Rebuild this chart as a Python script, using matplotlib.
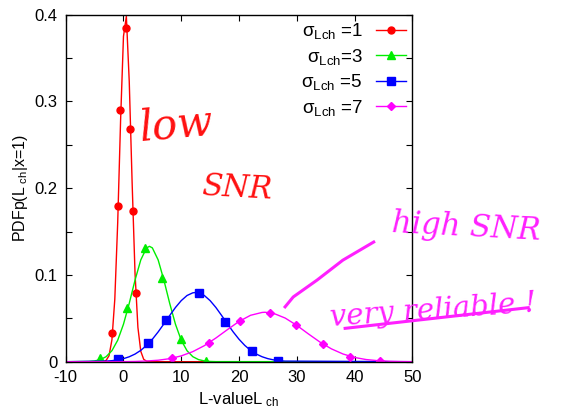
import matplotlib
matplotlib.use("Agg")
import matplotlib.pyplot as plt
from matplotlib.ticker import MultipleLocator

plt.rcParams['font.family'] = ['Liberation Sans', 'DejaVu Sans']
plt.rcParams['mathtext.fontset'] = 'custom'
plt.rcParams['mathtext.rm'] = 'Liberation Sans'

# ---- data ----
labels = [r'$\mathregular{\sigma_{Lch}}$ =1', r'$\mathregular{\sigma_{Lch}}$=3',
          r'$\mathregular{\sigma_{Lch}}$ =5', r'$\mathregular{\sigma_{Lch}}$ =7']
colors = ['#ff0000', '#00ee00', '#0000ff', '#ff00ff']
markers = ['o', '^', 's', 'D']
xticks = [-10, 0, 10, 20, 30, 40, 50]
xticklabels = ['-10', '0', '10', '20', '30', '40', '50']
yticks = [0, 0.1, 0.2, 0.3, 0.4]
yticklabels = ['0', '0.1', '0.2', '0.3', '0.4']

# smooth curves
red_x = [-10, -4, -3.5, -3, -2.5, -2, -1.5, -1, -0.5, 0, 0.5, 1, 1.5, 2, 2.5, 3, 3.5, 4, 4.5, 5, 50]
red_y = [0, 0.0000, 0.0002, 0.0015, 0.0069, 0.0252, 0.0721, 0.160, 0.278, 0.375, 0.398, 0.323,
         0.206, 0.102, 0.0395, 0.0119, 0.0028, 0.0005, 0.0001, 0, 0]
green_x = [-10, -6, -5, -4, -3, -2, -1, 0, 1, 2, 3, 4, 4.5, 5, 6, 7, 8, 9, 10, 11, 12, 13, 14, 15, 16, 50]
green_y = [0, 0.0003, 0.0009, 0.0024, 0.0058, 0.0127, 0.0247, 0.0432, 0.0673, 0.094, 0.1174, 0.1312,
           0.133, 0.1312, 0.1174, 0.094, 0.0673, 0.0432, 0.0247, 0.0127, 0.0058, 0.0024, 0.0009,
           0.0003, 0.0001, 0]
blue_x = [-10, -3, -2, -1, 0, 1, 2, 3, 4, 5, 6, 7, 8, 9, 10, 11, 12, 12.5, 13, 14, 15, 16, 17, 18,
          19, 20, 21, 22, 23, 24, 25, 26, 27, 28, 50]
blue_y = [0, 0.0007, 0.0012, 0.0021, 0.0035, 0.0057, 0.0088, 0.0131, 0.0188, 0.0259, 0.0343,
          0.0436, 0.0532, 0.0625, 0.0704, 0.0763, 0.0794, 0.0798, 0.0794, 0.0763, 0.0704, 0.0625,
          0.0532, 0.0436, 0.0343, 0.0259, 0.0188, 0.0131, 0.0088, 0.0057, 0.0035, 0.0021,
          0.0012, 0.0007, 0]
mag_x = [-10, 0, 2, 4, 6, 8, 10, 12, 14, 16, 18, 20, 22, 24, 24.5, 26, 28, 30, 32, 34, 36, 38,
         40, 42, 44, 46, 48, 50]
mag_y = [0, 0.0001, 0.0003, 0.0008, 0.0017, 0.0035, 0.0067, 0.0116, 0.0185, 0.0273, 0.0370,
         0.0464, 0.0535, 0.0568, 0.0570, 0.0557, 0.0503, 0.0419, 0.0321, 0.0227, 0.0148, 0.0089,
         0.0049, 0.0025, 0.0012, 0.0005, 0.0002, 0.0001]

# sample markers
red_mx = [-1.96, -0.98, -0.52, 0.52, 1.21, 1.68, 2.2]
red_my = [0.0327, 0.179, 0.290, 0.385, 0.268, 0.174, 0.0788]
green_mx = [-4.04, 0.64, 3.76, 6.71, 9.88, 14.33]
green_my = [0.0039, 0.0622, 0.1307, 0.0961, 0.0258, 0.001]
blue_mx = [-0.87, 4.21, 7.4, 13.0, 17.6, 22.2, 26.7]
blue_my = [0.0028, 0.0212, 0.048, 0.0789, 0.0461, 0.0123, 0.001]
mag_mx = [8.37, 14.73, 20.1, 25.3, 29.9, 34.5, 39.2, 44.4]
mag_my = [0.0039, 0.0212, 0.0473, 0.0558, 0.0423, 0.020, 0.0058, 0.0008]

curves = [(red_x, red_y, red_mx, red_my), (green_x, green_y, green_mx, green_my),
          (blue_x, blue_y, blue_mx, blue_my), (mag_x, mag_y, mag_mx, mag_my)]
msizes = [5, 6, 5.5, 4.5]

fig = plt.figure(figsize=(5.83, 4.13), dpi=100)
ax = fig.add_axes([0.1127, 0.1242, 0.5945, 0.8402])

for (cx, cy, mx, my), c, m, lab, ms in zip(curves, colors, markers, labels, msizes):
    ax.plot(cx, cy, color=c, lw=1.0)
    ax.plot(mx, my, ls='none', marker=m, color=c, ms=ms, mec=c)
    ax.plot([], [], color=c, lw=1.0, marker=m, ms=ms, label=lab)

ax.set_xlim(-10, 50)
ax.set_ylim(0, 0.4)
ax.set_xticks(xticks)
ax.set_xticklabels(xticklabels)
ax.set_yticks(yticks)
ax.set_yticklabels(yticklabels)
ax.yaxis.set_minor_locator(MultipleLocator(0.05))
ax.tick_params(which='both', direction='in', top=True, right=True, labelsize=12,
               length=4, width=0.8, pad=6)
for s in ax.spines.values():
    s.set_linewidth(1.0)

ax.set_xlabel(r'L-valueL$\mathregular{_{\ ch}}$', fontsize=12, labelpad=4)
ax.set_ylabel(r'PDFp(L$\mathregular{_{\ ch}}$|x=1)', fontsize=11.5, labelpad=3)

leg = ax.legend(loc='upper right', bbox_to_anchor=(1.014, 1.014), frameon=False, markerfirst=False,
                fontsize=13.5, handlelength=1.6, labelspacing=0.3, borderaxespad=0.2,
                handletextpad=0.7)

# handwritten annotations
fig.text(0.235, 0.66, 'low', color='#ff1010', fontsize=30, style='italic', rotation=5,
         family='DejaVu Serif')
fig.text(0.345, 0.52, 'SNR', color='#ff1010', fontsize=22, style='italic', rotation=-3,
         family='DejaVu Serif')
fig.text(0.67, 0.42, 'high SNR', color='#ff20ff', fontsize=22, style='italic', rotation=-3,
         family='DejaVu Serif')
fig.text(0.565, 0.21, 'very reliable !', color='#ff20ff', fontsize=21, style='italic', rotation=4,
         family='DejaVu Serif')
fig.add_artist(plt.Line2D([0.592, 0.906], [0.205, 0.255], color='#ff20ff', lw=2.2))
fig.add_artist(plt.Line2D([0.641, 0.588, 0.544, 0.503, 0.489],
                          [0.414, 0.370, 0.322, 0.281, 0.257], color='#ff20ff', lw=2.2))

fig.savefig('out.png', dpi=100)
